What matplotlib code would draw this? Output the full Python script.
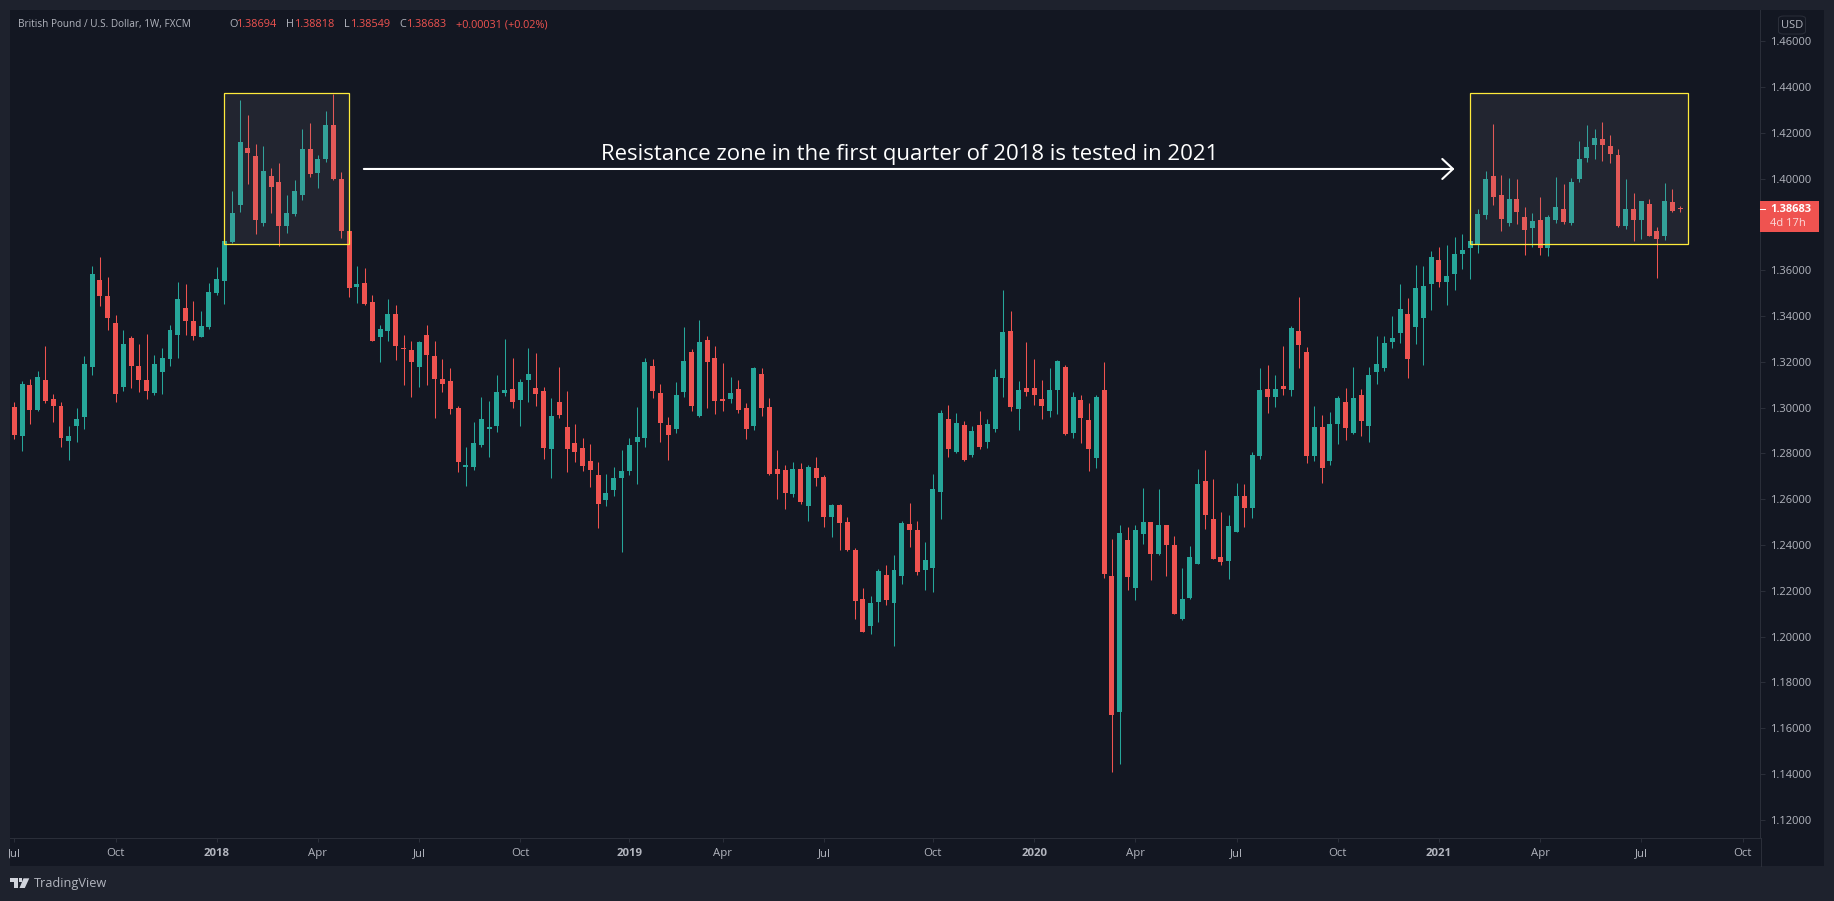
import numpy as np
import matplotlib
matplotlib.use("Agg")
import matplotlib.pyplot as plt
from matplotlib.patches import Rectangle, FancyBboxPatch, Polygon
from matplotlib.transforms import Bbox, TransformedBbox, IdentityTransform

# ---- weekly GBP/USD candles ----
opens = [
1.3003,1.2876,1.3099,1.2989,1.3120,1.3038,1.3007,1.2854,1.2920,1.2959,
1.3177,1.3557,1.3487,1.3369,1.3090,1.3304,1.3182,1.3120,1.3064,1.3155,
1.3212,1.3317,1.3435,1.3378,1.3308,1.3352,1.3500,1.3553,1.3723,1.3885,
1.4134,1.4099,1.3806,1.4011,1.3985,1.3793,1.3845,1.3928,1.4129,1.4024,
1.4086,1.4234,1.3998,1.3771,1.3527,1.3544,1.3461,1.3308,1.3334,1.3409,
1.3260,1.3251,1.3177,1.3317,1.3225,1.3125,1.3116,1.2998,1.2741,1.2741,
1.2837,1.2907,1.2920,1.3064,1.3081,1.3033,1.3121,1.3086,1.3072,1.2819,
1.3024,1.2915,1.2845,1.2824,1.2767,1.2706,1.2597,1.2640,1.2693,1.2723,
1.2850,1.2867,1.3182,1.3064,1.2924,1.2907,1.3068,1.3243,1.2963,1.3295,
1.3217,1.3038,1.3038,1.3081,1.2998,1.2920,1.3147,1.3003,1.2732,1.2727,
1.2623,1.2732,1.2570,1.2736,1.2697,1.2522,1.2575,1.2500,1.2378,1.2164,
1.2046,1.2151,1.2269,1.2147,1.2265,1.2492,1.2466,1.2291,1.2300,1.2631,
1.2950,1.2806,1.2924,1.2793,1.2924,1.2850,1.2906,1.3129,1.3335,1.2994,
1.3086,1.3086,1.3037,1.2985,1.3077,1.3177,1.2889,1.3033,1.2946,1.2780,
1.3077,1.2265,1.1671,1.2422,1.2212,1.2448,1.2500,1.2361,1.2487,1.2400,
1.2077,1.2169,1.2317,1.2679,1.2513,1.2348,1.2330,1.2457,1.2614,1.2562,
1.2789,1.3081,1.3046,1.3094,1.3077,1.3335,1.3243,1.2789,1.2915,1.2767,
1.2928,1.3024,1.2889,1.3055,1.2920,1.3156,1.3173,1.3287,1.3326,1.3409,
1.3352,1.3391,1.3540,1.3645,1.3549,1.3583,1.3671,1.3697,1.3714,1.3841,
1.4011,1.3928,1.3806,1.3911,1.3832,1.3784,1.3819,1.3697,1.3819,1.3867,
1.3806,1.3998,1.4090,1.4147,1.4173,1.4142,1.4103,1.3793,1.3867,1.3819,
1.3889,1.3771,1.3749,1.3898,1.38694]
highs = [
1.3024,1.3116,1.3125,1.3160,1.3269,1.3059,1.3024,1.2920,1.2998,1.3225,
1.3618,1.3658,1.3570,1.3404,1.3339,1.3313,1.3278,1.3321,1.3230,1.3260,
1.3361,1.3548,1.3540,1.3465,1.3422,1.3544,1.3614,1.3728,1.3946,1.4343,
1.4278,1.4151,1.4142,1.4046,1.4068,1.3928,1.3994,1.4217,1.4243,1.4103,
1.4295,1.4369,1.4029,1.3771,1.3618,1.3610,1.3492,1.3361,1.3474,1.3448,
1.3317,1.3291,1.3291,1.3361,1.3291,1.3212,1.3173,1.3007,1.2828,1.2937,
1.3046,1.3029,1.3142,1.3300,1.3217,1.3125,1.3260,1.3238,1.3090,1.3042,
1.3177,1.3072,1.2928,1.2867,1.2841,1.2762,1.2710,1.2741,1.2815,1.2867,
1.3003,1.3217,1.3212,1.3103,1.2959,1.3112,1.3352,1.3256,1.3382,1.3313,
1.3269,1.3195,1.3134,1.3121,1.3020,1.3177,1.3173,1.3042,1.2815,1.2749,
1.2762,1.2758,1.2749,1.2784,1.2706,1.2579,1.2579,1.2522,1.2387,1.2212,
1.2177,1.2295,1.2313,1.2356,1.2505,1.2583,1.2505,1.2413,1.2710,1.2990,
1.3011,1.2976,1.2941,1.2920,1.2985,1.2950,1.3169,1.3514,1.3422,1.3116,
1.3286,1.3212,1.3121,1.3173,1.3208,1.3186,1.3068,1.3055,1.3020,1.3055,
1.3199,1.2426,1.2487,1.2479,1.2487,1.2649,1.2500,1.2645,1.2487,1.2439,
1.2300,1.2396,1.2732,1.2815,1.2688,1.2544,1.2531,1.2671,1.2666,1.2806,
1.3173,1.3186,1.3142,1.3269,1.3356,1.3483,1.3265,1.3007,1.2968,1.2981,
1.3051,1.3086,1.3177,1.3081,1.3177,1.3313,1.3313,1.3400,1.3540,1.3479,
1.3623,1.3618,1.3684,1.3701,1.3710,1.3745,1.3758,1.3728,1.3867,1.4033,
1.4239,1.4016,1.4003,1.3998,1.3876,1.3850,1.3920,1.3841,1.4007,1.3976,
1.4003,1.4164,1.4234,1.4217,1.4247,1.4190,1.4129,1.3998,1.3937,1.3902,
1.3911,1.3789,1.3981,1.3955,1.38818]
lows = [
1.2863,1.2810,1.2928,1.2985,1.3020,1.2937,1.2828,1.2771,1.2850,1.2907,
1.3142,1.3444,1.3339,1.3024,1.3072,1.3086,1.3068,1.3038,1.3055,1.3059,
1.3182,1.3217,1.3317,1.3295,1.3308,1.3343,1.3492,1.3452,1.3719,1.3854,
1.3976,1.3758,1.3793,1.3850,1.3706,1.3762,1.3837,1.3907,1.4007,1.3959,
1.4072,1.3994,1.3741,1.3483,1.3457,1.3448,1.3291,1.3199,1.3291,1.3208,
1.3099,1.3046,1.3090,1.3099,1.2955,1.3068,1.2972,1.2719,1.2658,1.2727,
1.2828,1.2784,1.2893,1.3051,1.2998,1.2920,1.3024,1.3007,1.2776,1.2693,
1.2955,1.2719,1.2762,1.2723,1.2653,1.2474,1.2570,1.2614,1.2369,1.2706,
1.2666,1.2828,1.3042,1.2850,1.2771,1.2889,1.3046,1.2985,1.2959,1.2998,
1.2972,1.2985,1.3020,1.2976,1.2863,1.2902,1.2963,1.2706,1.2601,1.2557,
1.2610,1.2579,1.2505,1.2658,1.2479,1.2435,1.2378,1.2374,1.2077,1.2020,
1.2011,1.2064,1.2138,1.1959,1.2230,1.2391,1.2269,1.2203,1.2195,1.2513,
1.2784,1.2802,1.2767,1.2784,1.2819,1.2824,1.2893,1.3046,1.2985,1.2902,
1.3051,1.3011,1.2950,1.2959,1.2972,1.2880,1.2867,1.2845,1.2723,1.2736,
1.2256,1.1409,1.1444,1.2203,1.2160,1.2404,1.2247,1.2356,1.2265,1.2099,
1.2072,1.2164,1.2317,1.2470,1.2339,1.2313,1.2251,1.2457,1.2479,1.2518,
1.2776,1.2976,1.3003,1.3055,1.3051,1.3173,1.2758,1.2767,1.2671,1.2749,
1.2841,1.2858,1.2885,1.2876,1.2850,1.3103,1.3160,1.3260,1.3282,1.3129,
1.3278,1.3186,1.3426,1.3527,1.3448,1.3514,1.3605,1.3562,1.3675,1.3824,
1.3885,1.3771,1.3793,1.3802,1.3666,1.3701,1.3666,1.3662,1.3806,1.3802,
1.3797,1.3985,1.4073,1.4086,1.4077,1.4068,1.3789,1.3780,1.3728,1.3736,
1.3749,1.3566,1.3732,1.3854,1.38549]
closes = [
1.2880,1.3103,1.2989,1.3134,1.3029,1.3007,1.2867,1.2876,1.2950,1.3190,
1.3583,1.3487,1.3391,1.3059,1.3278,1.3182,1.3120,1.3072,1.3190,1.3217,
1.3339,1.3474,1.3378,1.3313,1.3356,1.3505,1.3562,1.3728,1.3850,1.4160,
1.4112,1.3819,1.4033,1.3963,1.3793,1.3850,1.3946,1.4129,1.4020,1.4086,
1.4234,1.3998,1.3771,1.3522,1.3540,1.3452,1.3291,1.3343,1.3409,1.3269,
1.3256,1.3199,1.3286,1.3230,1.3125,1.3103,1.2994,1.2762,1.2749,1.2845,
1.2950,1.2915,1.3068,1.3077,1.3024,1.3112,1.3147,1.3059,1.2824,1.2963,
1.2968,1.2819,1.2806,1.2745,1.2727,1.2579,1.2627,1.2693,1.2723,1.2837,
1.2872,1.3199,1.3072,1.2933,1.2880,1.3055,1.3204,1.3007,1.3286,1.3199,
1.3029,1.3029,1.3064,1.2990,1.2907,1.3173,1.2998,1.2710,1.2710,1.2627,
1.2732,1.2588,1.2741,1.2693,1.2522,1.2575,1.2496,1.2378,1.2155,1.2020,
1.2147,1.2286,1.2160,1.2291,1.2496,1.2466,1.2282,1.2335,1.2645,1.2976,
1.2819,1.2933,1.2771,1.2898,1.2828,1.2928,1.3134,1.3330,1.3003,1.3077,
1.3068,1.3055,1.3007,1.3077,1.3203,1.2885,1.3046,1.2955,1.2819,1.3046,
1.2273,1.1658,1.2452,1.2260,1.2466,1.2500,1.2361,1.2487,1.2400,1.2099,
1.2164,1.2348,1.2666,1.2531,1.2339,1.2326,1.2483,1.2614,1.2562,1.2793,
1.3077,1.3046,1.3081,1.3081,1.3348,1.3273,1.2789,1.2915,1.2736,1.2928,
1.3042,1.2911,1.3042,1.2941,1.3142,1.3190,1.3282,1.3304,1.3431,1.3212,
1.3522,1.3531,1.3658,1.3549,1.3575,1.3671,1.3688,1.3728,1.3845,1.3998,
1.3920,1.3824,1.3911,1.3854,1.3776,1.3815,1.3697,1.3832,1.3876,1.3811,
1.3985,1.4086,1.4138,1.4177,1.4147,1.4107,1.3793,1.3867,1.3819,1.3902,
1.3749,1.3736,1.3902,1.3859,1.38683]

price_ticks = [1.12,1.14,1.16,1.18,1.20,1.22,1.24,1.26,1.28,1.30,1.32,1.34,1.36,1.40,1.42,1.44,1.46]
time_tick_bars = [0,13,26,39,52,65,79,91,104,118,131,144,157,170,183,196,209,222]
time_tick_labels = ["Jul","Oct","2018","Apr","Jul","Oct","2019","Apr","Jul","Oct","2020","Apr","Jul","Oct","2021","Apr","Jul","Oct"]
zone_top, zone_bottom = 1.43725, 1.3713
zone_bars = [(27, 43), (187, 215)]
last_price = 1.38683

BG = "#131722"; FRAME = "#1e222d"; LINE = "#2a2e39"
UP = "#26a69a"; DOWN = "#ef5350"; TXT = "#b2b5be"; YEL = "#ffeb3b"
FONT = "Open Sans"
W, H = 1834, 901
fx = lambda p: p / W
fy = lambda p: 1 - p / H

plt.rcParams["font.family"] = FONT
fig = plt.figure(figsize=(W/100, H/100), dpi=100, facecolor=FRAME)

# pane including the axis strips
fig.add_artist(Rectangle((fx(10), fy(866)), (1824-10)/W, (866-10)/H,
                         transform=fig.transFigure, fc=BG, ec="none", zorder=-5))

ax = fig.add_axes([fx(10), fy(838), 1750/W, 828/H], zorder=0)
ax.patch.set_alpha(0)
ax.set_xlim(-0.552, 224.24)
ax.set_ylim(1.11205, 1.47362)

o = np.array(opens); c = np.array(closes); hi = np.array(highs); lo = np.array(lows)
x = np.arange(len(o))
cols = np.where(c > o, UP, DOWN)
ax.vlines(x, lo, hi, colors=cols, linewidth=0.75, zorder=2)
bottoms = np.minimum(o, c)
heights = np.maximum(np.abs(o - c), 0.0004)
ax.bar(x, heights, bottom=bottoms, width=0.64, color=cols, linewidth=0, zorder=3)

for a, b in zone_bars:
    ax.add_patch(Rectangle((a, zone_bottom), b - a, zone_top - zone_bottom,
                           fc=(0.55, 0.52, 0.58, 0.13), ec="none", zorder=4))
    ax.add_patch(Rectangle((a, zone_bottom), b - a, zone_top - zone_bottom,
                           fc="none", ec=YEL, lw=0.9, zorder=5))

ax.annotate("", xy=(185.0, 1.4042), xytext=(44.9, 1.4042),
            arrowprops=dict(arrowstyle="->,head_length=0.77,head_width=0.72",
                            color="white", lw=1.5, shrinkA=0, shrinkB=0,
                            mutation_scale=10), zorder=6)
ax.text(115.0, 1.4107, "Resistance zone in the first quarter of 2018 is tested in 2021",
        color="white", fontsize=15.9, ha="center", va="center", family=FONT, zorder=6)

for s in ["top", "left"]:
    ax.spines[s].set_visible(False)
ax.spines["bottom"].set_color(LINE)
ax.spines["right"].set_color(LINE)
ax.spines["bottom"].set_linewidth(0.75)
ax.spines["right"].set_linewidth(0.75)

ax.yaxis.tick_right()
ax.set_yticks(price_ticks)
ax.set_yticklabels([f"{v:.5f}" for v in price_ticks], fontsize=8, color=TXT, family=FONT)
ax.tick_params(axis="y", length=3.6, width=0.75, color=LINE, pad=3.5)
ax.set_xticks(time_tick_bars)
ax.set_xticklabels(time_tick_labels, fontsize=8.2, color=TXT, family=FONT)
ax.tick_params(axis="x", length=3, width=0.75, color=LINE, pad=4)
clip = TransformedBbox(Bbox([[8.5, 0], [W, H]]), IdentityTransform())
for lab in ax.get_xticklabels():
    if lab.get_text().isdigit():
        lab.set_fontweight("bold")
    lab.set_clip_on(True)
    lab.set_clip_box(clip)

# price axis line through the time strip
fig.add_artist(plt.Line2D([fx(1760.5)]*2, [fy(866), fy(838)], color=LINE, lw=0.75))

# last price tag
fig.add_artist(Rectangle((fx(1760), fy(231.7)), 59/W, 30.7/H, transform=fig.transFigure,
                         fc=DOWN, ec="none", zorder=2))
fig.add_artist(plt.Line2D([fx(1760), fx(1765)], [fy(209)]*2, color="white", lw=0.75, zorder=3))
fig.text(fx(1770.5), fy(209.5), f"{last_price:.5f}", color="white", fontsize=8, fontweight="bold",
         va="center", ha="left", family=FONT, zorder=4)
fig.text(fx(1770), fy(224), "4d 17h", color="#fbdad9", fontsize=8, va="center", ha="left", family=FONT, zorder=4)

# currency badge
fig.add_artist(FancyBboxPatch((fx(1778.5), fy(34)), 27/W, 18/H, transform=fig.transFigure,
                              boxstyle="round,pad=0,rounding_size=0.003", fc="none", ec=LINE, lw=0.75, zorder=3))
fig.text(fx(1792), fy(25.3), "USD", color=TXT, fontsize=8, ha="center", va="center", family=FONT, zorder=4)

# header
ty = fy(24.7)
fig.text(fx(18), ty, "British Pound / U.S. Dollar, 1W, FXCM", color=TXT, fontsize=7.2, va="center", family=FONT)
for px_, s_, col in [(229, "O", TXT), (237, "1.38694", DOWN), (286, "H", TXT), (295, "1.38818", DOWN),
                     (344, "L", TXT), (351, "1.38549", DOWN), (399, "C", TXT), (407, "1.38683", DOWN),
                     (455.5, "+0.00031 (+0.02%)", DOWN)]:
    fig.text(fx(px_), ty, s_, color=col, fontsize=7.8, va="center", family=FONT)

# watermark
for pts in [[(10, 878.3), (17.5, 878.3), (17.5, 888), (13.5, 888), (13.5, 881.5), (10, 881.5)],
            [(23.5, 878.3), (29.3, 878.3), (24.8, 888), (19.5, 888)],
            [(18.8, 878.3), (22, 878.3), (22, 881.5), (18.8, 881.5)]]:
    fig.add_artist(Polygon([(fx(a), fy(b)) for a, b in pts], closed=True,
                           transform=fig.transFigure, fc="#d1d4dc", ec="none", zorder=3))
fig.text(fx(33.5), fy(883), "TradingView", color=TXT, fontsize=9.2, va="center", family=FONT)

fig.savefig("out.png", dpi=100, facecolor=FRAME)
